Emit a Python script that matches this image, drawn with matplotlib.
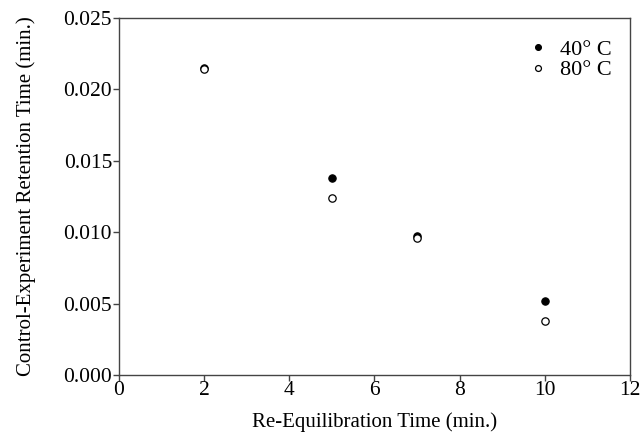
import matplotlib
matplotlib.use("Agg")
import matplotlib.pyplot as plt

plt.rcParams['font.family'] = ['Liberation Serif', 'DejaVu Serif']
plt.rcParams['mathtext.fontset'] = 'stix'

reequil_time = [2, 5, 7, 10]
retention_40c = [0.0215, 0.0138, 0.0097, 0.0052]
retention_80c = [0.0214, 0.0124, 0.0096, 0.0038]
series_labels = ["40° C", "80° C"]
x_ticks = [0, 2, 4, 6, 8, 10, 12]
y_ticks = [0.000, 0.005, 0.010, 0.015, 0.020, 0.025]

fig = plt.figure(figsize=(6.42, 4.36), dpi=100)
ax = fig.add_axes([0.1854, 0.140, 0.7956, 0.8187])

ax.plot(reequil_time, retention_40c, linestyle='none', marker='o', markersize=5.3,
        markerfacecolor='black', markeredgecolor='black', markeredgewidth=0.8,
        label=series_labels[0])
ax.plot(reequil_time, retention_80c, linestyle='none', marker='o', markersize=5.3,
        markerfacecolor='white', markeredgecolor='black', markeredgewidth=0.9,
        label=series_labels[1])

ax.set_xlim(0, 12)
ax.set_ylim(0, 0.025)
ax.set_xticks(x_ticks)
ax.set_yticks(y_ticks)
ax.set_xticklabels([str(t) for t in x_ticks])
ax.set_yticklabels([f"{t:.3f}" for t in y_ticks])

for s in ax.spines.values():
    s.set_color('#444444')
    s.set_linewidth(1.0)
ax.tick_params(direction='out', length=4, width=1.0, color='#444444',
               labelsize=15.5, pad=1)
ax.tick_params(axis='x', pad=0)

ax.set_xlabel("Re-Equilibration Time (min.)", fontsize=15, labelpad=9)
ax.set_ylabel("Control-Experiment Retention Time (min.)", fontsize=15, labelpad=20)

leg = ax.legend(loc='upper right', frameon=False, fontsize=16, handletextpad=0.5,
                borderaxespad=0.4, labelspacing=0.0, handlelength=1.0,
                markerscale=0.8, bbox_to_anchor=(1.0, 0.99))

fig.savefig("out.png", dpi=100)
